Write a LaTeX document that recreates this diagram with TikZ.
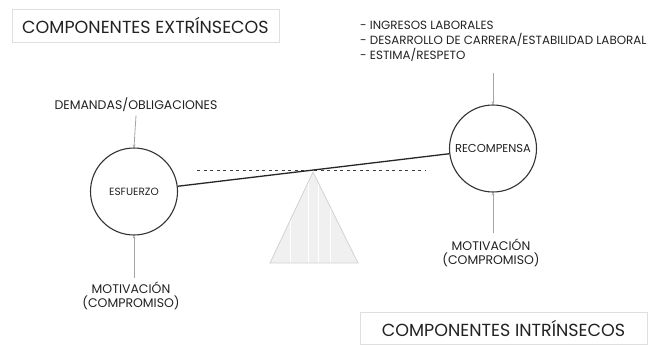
\documentclass[tikz,border=0pt]{standalone}
\usepackage{fontspec}
\setmainfont{Poppins}
\usetikzlibrary{arrows.meta}
\definecolor{txt}{HTML}{222222}
\tikzset{
  big/.style={font=\fontsize{17.5}{20}\selectfont, text=txt},
  small/.style={font=\fontsize{12.5}{14}\selectfont, text=txt},
  listtxt/.style={font=\fontsize{11.9}{15}\selectfont, text=txt},
  titlebox/.style={draw=gray!25, line width=0.8pt, inner sep=0pt},
  ball/.style={circle, draw=black!80, line width=1.1pt, minimum size=87pt, inner sep=0pt, text=txt},
  conn/.style={draw=gray!70, line width=0.8pt, -{Stealth[length=3pt,width=3pt]}},
  beam/.style={draw=black!85, line width=1.3pt},
  level/.style={draw=black!75, line width=1pt, dash pattern=on 3pt off 3.5pt},
}
\begin{document}
\begin{tikzpicture}[x=1pt,y=-1pt]
\useasboundingbox (0,0) rectangle (648,345);
% boxes
\node[titlebox, big, minimum width=267pt, minimum height=33pt] (ext) at (145.5,25.5) {COMPONENTES EXTRÍNSECOS};
\node[titlebox, big, minimum width=287pt, minimum height=32pt] (int) at (503.5,328) {COMPONENTES INTRÍNSECOS};
% fulcrum
\fill[gray!12] (313,172) -- (358,263) -- (270,263) -- cycle;
\begin{scope}
\clip (313,172) -- (358,263) -- (270,263) -- cycle;
\draw[white, line width=1pt] (308,172) -- (308,263);
\draw[white, line width=1pt] (318,172) -- (318,263);
\draw[white, line width=0.8pt] (330,172) -- (330,263);
\draw[white, line width=0.8pt] (290,172) -- (290,263);
\end{scope}
\draw[gray!35, line width=0.8pt] (313,172) -- (358,263) -- (270,263) -- cycle;
% level line
\coordinate (l1) at (197,170);
\coordinate (l2) at (425,170);
\draw[level] (l1) -- (l2);
% balls
\node[ball, font=\fontsize{10.5}{12}\selectfont] (esf) at (134,191.5) {ESFUERZO};
\node[ball, font=\fontsize{11.5}{13}\selectfont] (rec) at (493,148.5) {RECOMPENSA};
\draw[beam] (esf) -- (rec);
% labels
\node[small] (dem) at (136,105) {DEMANDAS/OBLIGACIONES};
\node[listtxt, align=left, anchor=north west, inner sep=0pt] (list) at (360,21) {- INGRESOS LABORALES\\- DESARROLLO DE CARRERA/ESTABILIDAD LABORAL\\- ESTIMA/RESPETO};
\node[small, align=center, inner sep=0pt] (motL) at (131,296) {MOTIVACIÓN\\(COMPROMISO)};
\node[small, align=center, inner sep=0pt] (motR) at (491,252.5) {MOTIVACIÓN\\(COMPROMISO)};
% connectors
\draw[conn] (dem.south) -- (esf.north);
\draw[conn, shorten <=4pt] (motL.north -| esf.south) -- (esf.south);
\draw[conn, shorten <=11pt] (rec.north |- list.south) -- (rec.north);
\draw[conn, shorten <=5pt] (motR.north -| rec.south) -- (rec.south);
\end{tikzpicture}
\end{document}
